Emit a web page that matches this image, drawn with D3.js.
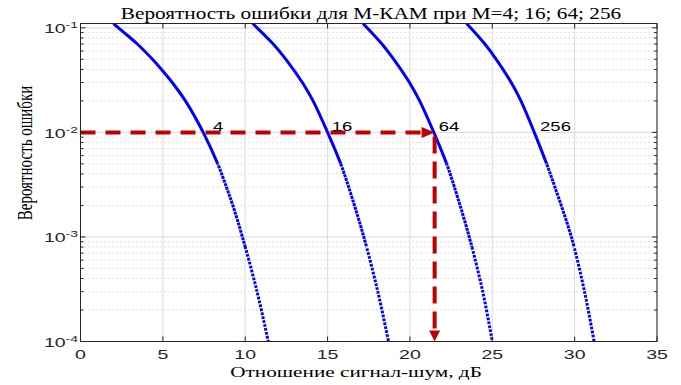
<!DOCTYPE html>
<html>
<head>
<meta charset="utf-8">
<script src="https://cdn.jsdelivr.net/npm/d3@7/dist/d3.min.js"></script>
<style>
body { margin: 0; background: #fff; }
svg { display: block; }
</style>
</head>
<body>
<div id="chart"></div>
<script>
// curves: SNR (dB) at given error probabilities
var orders = ["4", "16", "64", "256"];
var berLevels4 = [0.11, 9e-2, 7e-2, 5e-2, 4e-2, 3e-2, 2e-2, 1e-2, 5e-3, 3e-3, 2e-3, 1e-3, 3e-4, 1e-4];
var snr4 = [2.0, 2.65, 3.45, 4.37, 4.92, 5.57, 6.37, 7.45, 8.33, 8.86, 9.25, 9.83, 10.72, 11.4];
var berLevels = [0.11, 7e-2, 5e-2, 3e-2, 2e-2, 1e-2, 5e-3, 3e-3, 1e-3, 3e-4, 1e-4];
var snr16 = [10.45, 11.7, 12.47, 13.47, 14.12, 15.0, 15.8, 16.28, 17.2, 18.05, 18.7];
var snr64 = [17.15, 18.3, 19.02, 19.97, 20.59, 21.45, 22.23, 22.7, 23.6, 24.42, 25.0];
var snr256 = [23.44, 24.55, 25.24, 26.15, 26.74, 27.55, 28.3, 28.8, 29.8, 30.6, 31.18];

// annotation: labels on the 1e-2 line and the arrow to 21.5 dB
var labelSnr = [8.05, 15.25, 21.75, 27.9];
var targetBer = 1e-2;
var targetSnr = 21.5;

var xTicks = [0, 5, 10, 15, 20, 25, 30, 35];
var yTicks = [1e-4, 1e-3, 1e-2, 1e-1];
var yTickExp = ["-4", "-3", "-2", "-1"];
var yMinor = [2e-4, 3e-4, 4e-4, 5e-4, 6e-4, 7e-4, 8e-4, 9e-4,
              2e-3, 3e-3, 4e-3, 5e-3, 6e-3, 7e-3, 8e-3, 9e-3,
              2e-2, 3e-2, 4e-2, 5e-2, 6e-2, 7e-2, 8e-2, 9e-2];

var title = "Вероятность ошибки для М-КАМ при М=4; 16; 64; 256";
var xTitle = "Отношение сигнал-шум, дБ";
var yTitle = "Вероятность ошибки";

var width = 681, height = 385;
var margin = {top: 23.5, right: 24, bottom: 43.5, left: 80.5};
var w = width - margin.left - margin.right,
    h = height - margin.top - margin.bottom;

// the whole figure looks stretched sideways, so text is widened too
var stretch = 1.55;
var sans = "Liberation Sans, Arial, sans-serif";
var serif = "Liberation Serif, Times New Roman, serif";

var svg = d3.select("#chart").append("svg")
    .attr("width", width)
    .attr("height", height);

var g = svg.append("g")
    .attr("transform", "translate(" + margin.left + "," + margin.top + ")");

var x = d3.scaleLinear().domain([0, 35]).range([0, w]);
var y = d3.scaleLog().domain([1e-4, 0.11]).range([h, 0]);

function wideText(parent, px, py, sx) {
    return parent.append("g")
        .attr("transform", "translate(" + px + "," + py + ") scale(" + sx + ",1)")
      .append("text");
}

var defs = svg.append("defs");
defs.append("clipPath").attr("id", "plotclip")
  .append("rect").attr("width", w).attr("height", h);
// top of each curve is solid, further down the plotted dots separate
var s1 = y(5e-3), s2 = y(8e-4);
defs.append("clipPath").attr("id", "part0")
  .append("rect").attr("width", w).attr("height", s1);
defs.append("clipPath").attr("id", "part1")
  .append("rect").attr("y", s1).attr("width", w).attr("height", s2 - s1);
defs.append("clipPath").attr("id", "part2")
  .append("rect").attr("y", s2).attr("width", w).attr("height", h - s2);

var axisCol = "#262626";

// grid
g.append("g").selectAll("line").data(yMinor).enter().append("line")
    .attr("x1", 0).attr("x2", w)
    .attr("y1", function(d) { return y(d); })
    .attr("y2", function(d) { return y(d); })
    .attr("stroke", "#c4c4c4").attr("stroke-width", 1)
    .attr("stroke-dasharray", "1,3");

g.append("g").selectAll("line").data(yTicks).enter().append("line")
    .attr("x1", 0).attr("x2", w)
    .attr("y1", function(d) { return y(d); })
    .attr("y2", function(d) { return y(d); })
    .attr("stroke", "#e0e0e0").attr("stroke-width", 1.2);

g.append("g").selectAll("line").data(xTicks).enter().append("line")
    .attr("x1", function(d) { return x(d); })
    .attr("x2", function(d) { return x(d); })
    .attr("y1", 0).attr("y2", h)
    .attr("stroke", "#e0e0e0").attr("stroke-width", 1.2);

// curves
var series = [[snr4, berLevels4], [snr16, berLevels], [snr64, berLevels], [snr256, berLevels]];
var line = d3.line()
    .x(function(d) { return x(d[0]); })
    .y(function(d) { return y(d[1]); })
    .curve(d3.curveCatmullRom.alpha(0.5));

var dashes = [null, "3,0.8", "2.7,1.3"];
var curves = g.append("g").attr("clip-path", "url(#plotclip)");
series.forEach(function(s) {
    var pts = d3.zip(s[0], s[1]);
    dashes.forEach(function(da, k) {
        var p = curves.append("path").datum(pts)
            .attr("d", line)
            .attr("clip-path", "url(#part" + k + ")")
            .attr("fill", "none").attr("stroke", "#0000ff").attr("stroke-width", 3);
        if (da) p.attr("stroke-dasharray", da);
    });
});

// red arrows
var red = "#c00000";
var ax = x(targetSnr), ay = y(targetBer);
g.append("line")
    .attr("x1", x(0)).attr("x2", ax - 12)
    .attr("y1", ay).attr("y2", ay)
    .attr("stroke", red).attr("stroke-width", 4)
    .attr("stroke-dasharray", "15,10");
g.append("path")
    .attr("d", "M" + ax + "," + ay + "L" + (ax - 13) + "," + (ay - 5.5) + "L" + (ax - 13) + "," + (ay + 5.5) + "Z")
    .attr("fill", red);
g.append("line")
    .attr("x1", ax).attr("x2", ax)
    .attr("y1", ay + 4).attr("y2", y(1e-4) - 10)
    .attr("stroke", red).attr("stroke-width", 4)
    .attr("stroke-dasharray", "17,8");
g.append("path")
    .attr("d", "M" + ax + "," + y(1e-4) + "L" + (ax - 5.5) + "," + (y(1e-4) - 11) + "L" + (ax + 5.5) + "," + (y(1e-4) - 11) + "Z")
    .attr("fill", red);

// curve labels
orders.forEach(function(d, i) {
    wideText(g, x(labelSnr[i]), y(targetBer) - 1, 1.47)
        .attr("font-family", sans)
        .attr("font-size", 12.6)
        .attr("fill", "#000")
        .text(d);
});

// box and ticks
g.append("rect").attr("width", w).attr("height", h)
    .attr("fill", "none").attr("stroke", axisCol).attr("stroke-width", 1);

var ticks = g.append("g").attr("stroke", axisCol).attr("stroke-width", 1);
xTicks.forEach(function(d) {
    ticks.append("line").attr("x1", x(d)).attr("x2", x(d)).attr("y1", h).attr("y2", h - 5);
    ticks.append("line").attr("x1", x(d)).attr("x2", x(d)).attr("y1", 0).attr("y2", 5);
});
yTicks.forEach(function(d) {
    ticks.append("line").attr("x1", 0).attr("x2", 5).attr("y1", y(d)).attr("y2", y(d));
    ticks.append("line").attr("x1", w).attr("x2", w - 5).attr("y1", y(d)).attr("y2", y(d));
});
yMinor.forEach(function(d) {
    ticks.append("line").attr("x1", 0).attr("x2", 3).attr("y1", y(d)).attr("y2", y(d));
    ticks.append("line").attr("x1", w).attr("x2", w - 3).attr("y1", y(d)).attr("y2", y(d));
});

// tick labels
xTicks.forEach(function(d) {
    wideText(g, x(d), h + 17, stretch)
        .attr("text-anchor", "middle")
        .attr("font-family", sans)
        .attr("font-size", 12.6)
        .attr("fill", axisCol)
        .text(d);
});

yTicks.forEach(function(d, i) {
    var t = wideText(g, -2.5, y(d) + 5.5, stretch)
        .attr("text-anchor", "end")
        .attr("font-family", sans)
        .attr("font-size", 12.6)
        .attr("fill", axisCol);
    t.append("tspan").text("10");
    t.append("tspan").attr("dy", -5).attr("font-size", 9)
        .text(yTickExp[i]);
});

// titles, widened to the widths seen in the picture
function fitText(px, py, target, size, txt) {
    var t = wideText(svg, px, py, 1)
        .attr("text-anchor", "middle")
        .attr("font-family", serif)
        .attr("font-size", size)
        .attr("fill", "#000")
        .text(txt);
    var len = t.node().getComputedTextLength();
    d3.select(t.node().parentNode)
        .attr("transform", "translate(" + px + "," + py + ") scale(" + (target / len) + ",1)");
}
fitText(371, 19, 501, 16.5, title);
fitText(356, 377, 252, 15, xTitle);

svg.append("text")
    .attr("transform", "translate(32,153) scale(1.45,1) rotate(-90)")
    .attr("text-anchor", "middle")
    .attr("font-family", serif)
    .attr("font-size", 15)
    .attr("fill", "#000")
    .text(yTitle);
</script>
</body>
</html>
